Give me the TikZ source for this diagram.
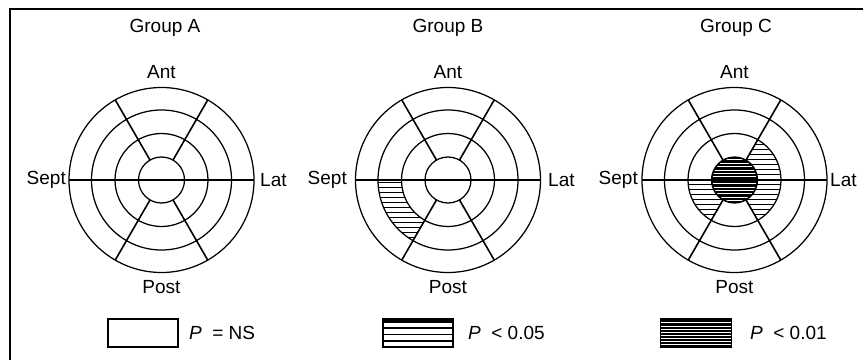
\documentclass[tikz,border=0pt]{standalone}
\usepackage{fontspec}
\setmainfont{Liberation Sans}
\usetikzlibrary{calc}
\begin{document}
\begin{tikzpicture}[x=1pt,y=1pt,
  ringline/.style={line width=1.25pt},
  spokeline/.style={line width=1.6pt},
  lbl/.style={font=\fontsize{19}{21}\selectfont, inner sep=0pt},
  hatchline/.style={line width=1.1pt},
  keybox/.style={draw, line width=1.25pt, minimum width=70pt, minimum height=28pt, inner sep=0pt},
]
\useasboundingbox (0,0) rectangle (863,360);
% frame (top and left edges)
\draw[line width=2pt] (863,351.5) -- (10,351.5) -- (10,0);

\coordinate (cA) at (161.5,180);
\coordinate (cB) at (448,180);
\coordinate (cC) at (734.5,180);

% ---- hatching Group B: ring 46.5-70, 180..240
\begin{scope}
\clip ($(cB)+(180:70pt)$) arc[start angle=180,end angle=240,radius=70pt]
   -- ($(cB)+(240:46.5pt)$) arc[start angle=240,end angle=180,radius=46.5pt] -- cycle;
\foreach \k in {0,...,15} \draw[hatchline] (370,177.5-\k*5) -- (450,177.5-\k*5);
\end{scope}

% ---- hatching Group C: ring 23-46.5, -60..60 and 180..240
\begin{scope}
\clip ($(cC)+(-60:46.5pt)$) arc[start angle=-60,end angle=60,radius=46.5pt]
   -- ($(cC)+(60:23pt)$) arc[start angle=60,end angle=-60,radius=23pt] -- cycle
   ($(cC)+(180:46.5pt)$) arc[start angle=180,end angle=240,radius=46.5pt]
   -- ($(cC)+(240:23pt)$) arc[start angle=240,end angle=180,radius=23pt] -- cycle;
\foreach \k in {-10,...,10} \draw[hatchline] (680,180.5+\k*5) -- (790,180.5+\k*5);
\end{scope}
% dense centre of Group C
\fill[black] (cC) circle[radius=23pt];
\begin{scope}
\clip (cC) circle[radius=22pt];
\foreach \k in {-6,...,6} \draw[white, line width=0.45pt] (705,180+\k*3.4) -- (765,180+\k*3.4);
\end{scope}

% ---- wheels
\foreach \c in {cA,cB,cC} {
  \foreach \r in {92.5,70,46.5,23} \draw[ringline] (\c) circle[radius=\r pt];
  \draw[ringline] ($(\c)+(180:92.5pt)$) -- ($(\c)+(0:92.5pt)$);
  \foreach \a in {60,120,240,300}
    \draw[spokeline] ($(\c)+(\a:23pt)$) -- ($(\c)+(\a:92.5pt)$);
}

% ---- titles and labels
\node[lbl] (gA) at (165,332) {Group A};
\node[lbl] (gB) at (448,332) {Group B};
\node[lbl] (gC) at (736,332) {Group C};

\node[lbl] (antA) at (161.5,288) {Ant};
\node[lbl] (antB) at (448,288) {Ant};
\node[lbl] (antC) at (734.5,288) {Ant};

\node[lbl] (postA) at (161.5,73) {Post};
\node[lbl] (postB) at (448,73) {Post};
\node[lbl] (postC) at (734.5,73) {Post};

\node[lbl, anchor=east] (septA) at (66,180) {Sept};
\node[lbl, anchor=east] (septB) at (347,180) {Sept};
\node[lbl, anchor=east] (septC) at (638,180) {Sept};
\node[lbl, anchor=west] (latA) at (260,180) {Lat};
\node[lbl, anchor=west] (latB) at (548,180) {Lat};
\node[lbl, anchor=west] (latC) at (830,180) {Lat};

% ---- legend
\node[keybox] (keyA) at (143,27) {};
\node[keybox] (keyB) at (418,27) {};
\node[keybox, fill=black] (keyC) at (696,27) {};
\foreach \yy in {37.5,32,25.5,19} \draw[line width=1.25pt] (keyB.west |- 0,\yy) -- (keyB.east |- 0,\yy);
\draw[line width=1.25pt] (keyB.west |- 0,39) -- (keyB.east |- 0,39);
\foreach \yy in {16,18.5,22,25,27.5,31,34,37.5}
  \draw[white, line width=0.45pt] ([xshift=1pt]keyC.west |- 0,\yy) -- ([xshift=-1pt]keyC.east |- 0,\yy);

\node[lbl, anchor=west] (tA) at (189,27) {\textit{P}\hspace{0.55em}= NS};
\node[lbl, anchor=west] (tB) at (468,27) {\textit{P}\hspace{0.55em}< 0.05};
\node[lbl, anchor=west] (tC) at (750,27) {\textit{P}\hspace{0.55em}< 0.01};
\end{tikzpicture}
\end{document}
